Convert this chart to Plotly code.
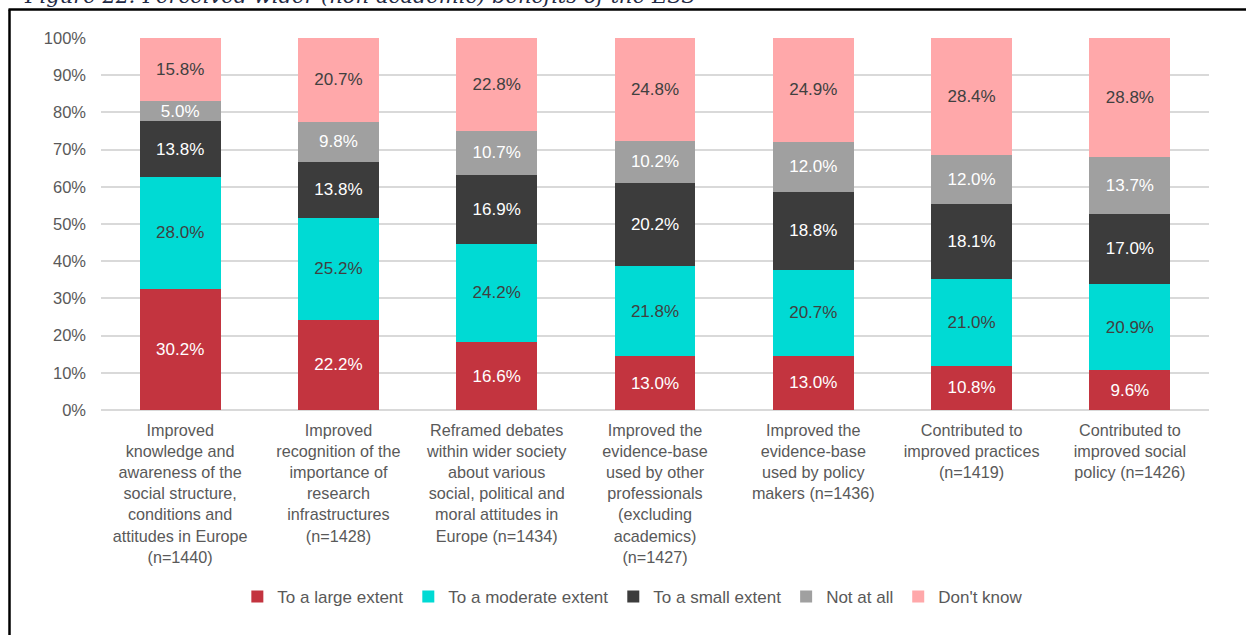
import plotly.graph_objects as go

# Survey items (x-axis categories, wrapped for display)
categories = [
    "Improved<br>knowledge and<br>awareness of the<br>social structure,<br>conditions and<br>attitudes in Europe<br>(n=1440)",
    "Improved<br>recognition of the<br>importance of<br>research<br>infrastructures<br>(n=1428)",
    "Reframed debates<br>within wider society<br>about various<br>social, political and<br>moral attitudes in<br>Europe (n=1434)",
    "Improved the<br>evidence-base<br>used by other<br>professionals<br>(excluding<br>academics)<br>(n=1427)",
    "Improved the<br>evidence-base<br>used by policy<br>makers (n=1436)",
    "Contributed to<br>improved practices<br>(n=1419)",
    "Contributed to<br>improved social<br>policy (n=1426)",
]

# Response shares (%) per category
large_extent = [30.2, 22.2, 16.6, 13.0, 13.0, 10.8, 9.6]
moderate_extent = [28.0, 25.2, 24.2, 21.8, 20.7, 21.0, 20.9]
small_extent = [13.8, 13.8, 16.9, 20.2, 18.8, 18.1, 17.0]
not_at_all = [5.0, 9.8, 10.7, 10.2, 12.0, 12.0, 13.7]
dont_know = [15.8, 20.7, 22.8, 24.8, 24.9, 28.4, 28.8]

y_tick_values = [0, 10, 20, 30, 40, 50, 60, 70, 80, 90, 100]
y_tick_labels = ["0%", "10%", "20%", "30%", "40%", "50%", "60%", "70%", "80%", "90%", "100%"]

series = [
    ("To a large extent", large_extent, "#C3343F", "#FFFFFF"),
    ("To a moderate extent", moderate_extent, "#00DAD4", "#404040"),
    ("To a small extent", small_extent, "#3C3C3C", "#FFFFFF"),
    ("Not at all", not_at_all, "#A0A0A0", "#FFFFFF"),
    ("Don't know", dont_know, "#FFA8AA", "#404040"),
]

FONT = "Liberation Sans, Arial, sans-serif"

fig = go.Figure()
for name, vals, color, txtcolor in series:
    fig.add_trace(go.Bar(
        x=categories,
        y=vals,
        name=name,
        marker=dict(color=color, line=dict(width=0)),
        text=[f"{v:.1f}%" for v in vals],
        textposition="inside",
        insidetextanchor="middle",
        textangle=0,
        textfont=dict(family=FONT, size=17, color=txtcolor),
        constraintext="none",
    ))

# plot area: left 101px, right 1209px, top 38px, bottom 410px
L, R, T, B = 101, 37, 38, 225
W, H = 1246, 635
pw, ph = W - L - R, H - T - B


def px_x(x):
    return (x - L) / pw


def px_y(y):
    return 1 - (y - T) / ph


fig.update_layout(
    width=W,
    height=H,
    margin=dict(l=L, r=R, t=T, b=B),
    paper_bgcolor="white",
    plot_bgcolor="white",
    barmode="stack",
    barnorm="percent",
    bargap=0.49,
    uniformtext=dict(minsize=17, mode="show"),
    font=dict(family=FONT, color="#595959"),
    showlegend=True,
    legend=dict(
        orientation="h",
        x=0.48,
        xanchor="center",
        y=px_y(597),
        yanchor="middle",
        font=dict(family=FONT, size=17, color="#595959"),
        itemwidth=30,
        traceorder="normal",
    ),
    xaxis=dict(
        showgrid=False,
        showline=False,
        ticks="",
        ticklabelstandoff=9,
        tickfont=dict(family=FONT, size=16.2, color="#595959"),
        tickangle=0,
        fixedrange=True,
    ),
    yaxis=dict(
        range=[0, 100],
        tickvals=y_tick_values,
        ticktext=y_tick_labels,
        showgrid=True,
        gridcolor="#D9D9D9",
        gridwidth=2,
        zeroline=True,
        zerolinecolor="#D9D9D9",
        zerolinewidth=2,
        showline=False,
        ticks="",
        ticklabelstandoff=14,
        tickfont=dict(family=FONT, size=16.5, color="#595959"),
        fixedrange=True,
    ),
)

# figure frame (left and top borders)
fig.add_shape(type="line", xref="paper", yref="paper",
              x0=px_x(9.5), x1=px_x(9.5), y0=px_y(9.5), y1=px_y(660),
              line=dict(color="black", width=2.5))
fig.add_shape(type="line", xref="paper", yref="paper",
              x0=px_x(8.5), x1=px_x(1260), y0=px_y(9.5), y1=px_y(9.5),
              line=dict(color="black", width=2.5))

# caption above the frame
fig.add_annotation(
    text="<i>Figure 22: Perceived wider (non-academic) benefits of the ESS</i>",
    xref="paper", yref="paper",
    x=px_x(22), y=px_y(10),
    xanchor="left", yanchor="bottom",
    showarrow=False,
    font=dict(family="DejaVu Serif, serif", size=21, color="#1F2A44"),
)

fig.write_html("out.html")
